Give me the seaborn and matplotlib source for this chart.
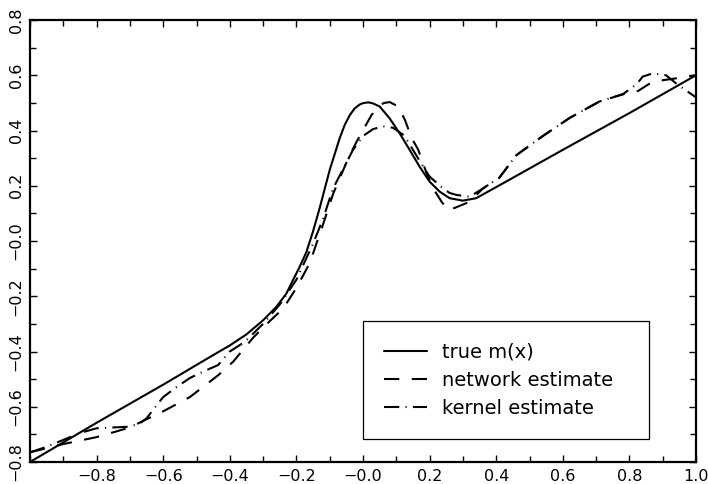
import numpy as np
import pandas as pd
import matplotlib
matplotlib.use("Agg")
import matplotlib.pyplot as plt
import seaborn as sns
from matplotlib.ticker import MultipleLocator

# ---- data ----
x_true = [-1.0, -0.8, -0.6, -0.45, -0.4, -0.35, -0.3, -0.26, -0.23, -0.21, -0.19, -0.17,
          -0.15, -0.13, -0.10, -0.07, -0.055, -0.04, -0.025, -0.01, 0.0, 0.016, 0.03,
          0.05, 0.08, 0.11, 0.14, 0.17, 0.20, 0.23, 0.26, 0.30, 0.34, 0.44, 0.60, 0.80,
          1.00]
y_true = [-0.80, -0.658, -0.52, -0.413, -0.378, -0.338, -0.287, -0.238, -0.19, -0.141,
          -0.093, -0.04, 0.035, 0.12, 0.257, 0.372, 0.42, 0.455, 0.48, 0.494, 0.499,
          0.502, 0.498, 0.487, 0.444, 0.39, 0.33, 0.269, 0.215, 0.179, 0.155, 0.146,
          0.155, 0.222, 0.33, 0.463, 0.60]

x_net = [-1.0, -0.9, -0.8, -0.7, -0.65, -0.61, -0.565, -0.52, -0.48, -0.435, -0.39,
         -0.33, -0.28, -0.24, -0.20, -0.16, -0.12, -0.09, -0.06, -0.044, -0.019, 0.026,
         0.061, 0.08, 0.106, 0.126, 0.146, 0.166, 0.191, 0.211, 0.236, 0.255, 0.276,
         0.32, 0.36, 0.41, 0.46, 0.54, 0.62, 0.71, 0.78, 0.826, 0.87, 0.93, 1.0]
y_net = [-0.765, -0.735, -0.71, -0.675, -0.645, -0.623, -0.594, -0.565, -0.528, -0.486,
         -0.437, -0.35, -0.29, -0.245, -0.17, -0.08, 0.06, 0.17, 0.255, 0.30, 0.36, 0.457,
         0.499, 0.503, 0.487, 0.438, 0.373, 0.33, 0.245, 0.19, 0.142, 0.112, 0.12,
         0.142, 0.19, 0.23, 0.31, 0.38, 0.445, 0.505, 0.531, 0.543, 0.577, 0.587, 0.60]

x_ker = [-1.0, -0.95, -0.9, -0.85, -0.8, -0.75, -0.7, -0.67, -0.65, -0.62, -0.6, -0.565,
         -0.52, -0.48, -0.435, -0.4, -0.355, -0.3, -0.25, -0.2, -0.15, -0.12, -0.09, -0.06,
         -0.03, 0.0, 0.03, 0.06, 0.09, 0.12, 0.135, 0.17, 0.2, 0.24, 0.26, 0.28, 0.32,
         0.36, 0.41, 0.46, 0.54, 0.62, 0.71, 0.78, 0.822, 0.84, 0.87, 0.91, 0.946, 1.0]
y_ker = [-0.765, -0.745, -0.72, -0.695, -0.678, -0.675, -0.672, -0.66, -0.642, -0.595,
         -0.565, -0.533, -0.496, -0.473, -0.449, -0.40, -0.365, -0.30, -0.23, -0.14,
         -0.01, 0.08, 0.19, 0.26, 0.33, 0.38, 0.405, 0.415, 0.41, 0.385, 0.36, 0.29,
         0.233, 0.191, 0.174, 0.167, 0.16, 0.19, 0.23, 0.31, 0.38, 0.445, 0.505, 0.531,
         0.568, 0.595, 0.607, 0.60, 0.565, 0.52]

series_labels = ["true m(x)", "network estimate", "kernel estimate"]

x_ticks = [-0.8, -0.6, -0.4, -0.2, 0.0, 0.2, 0.4, 0.6, 0.8, 1.0]
x_tick_labels = ["\u22120.8", "\u22120.6", "\u22120.4", "\u22120.2", "\u22120.0",
                 "0.2", "0.4", "0.6", "0.8", "1.0"]
y_ticks = [-0.8, -0.6, -0.4, -0.2, 0.0, 0.2, 0.4, 0.6, 0.8]
y_tick_labels = ["\u22120.8", "\u22120.6", "\u22120.4", "\u22120.2", "\u22120.0",
                 "0.2", "0.4", "0.6", "0.8"]

# ---- plotting ----
sns.set_style("ticks")
plt.rcParams["font.family"] = ["DejaVu Sans"]
plt.rcParams["lines.scale_dashes"] = False
plt.rcParams["text.color"] = "black"
plt.rcParams["legend.labelcolor"] = "black"

fig = plt.figure(figsize=(7.08, 4.84), dpi=100)
ax = fig.add_axes([30 / 708, 22 / 484, 666 / 708, 442 / 484])

df_true = pd.DataFrame({"x": x_true, "y": y_true})
df_net = pd.DataFrame({"x": x_net, "y": y_net})
df_ker = pd.DataFrame({"x": x_ker, "y": y_ker})

sns.lineplot(data=df_true, x="x", y="y", ax=ax, color="black", linewidth=1.5,
             estimator=None, sort=False, label=series_labels[0])
sns.lineplot(data=df_net, x="x", y="y", ax=ax, color="black", linewidth=1.5,
             estimator=None, sort=False, label=series_labels[1],
             linestyle=(0, (11.0, 9.0)))
sns.lineplot(data=df_ker, x="x", y="y", ax=ax, color="black", linewidth=1.5,
             estimator=None, sort=False, label=series_labels[2],
             linestyle=(0, (11.0, 4.5, 0.8, 4.5)))

ax.set_xlim(-1, 1)
ax.set_ylim(-0.8, 0.8)
ax.set_xlabel("")
ax.set_ylabel("")

ax.set_xticks(x_ticks)
ax.set_xticklabels(x_tick_labels, fontsize=11.5, color="black")
ax.set_yticks(y_ticks)
ax.set_yticklabels(y_tick_labels, fontsize=11.5, color="black")
ax.xaxis.set_minor_locator(MultipleLocator(0.1))
ax.yaxis.set_minor_locator(MultipleLocator(0.1))
ax.tick_params(which="both", direction="in", top=True, right=True,
               colors="black", width=1.0)
ax.tick_params(which="major", length=5)
ax.tick_params(which="minor", length=4)
ax.tick_params(axis="x", which="major", pad=5)
ax.tick_params(axis="y", which="major", pad=4.5)
for lab in ax.get_yticklabels():
    lab.set_rotation(90)
    lab.set_va("center")

for sp in ax.spines.values():
    sp.set_visible(True)
    sp.set_linewidth(1.6)
    sp.set_color("black")

x0 = (363 - 30) / 666
y0 = (462 - 439) / 442
w = (649 - 363) / 666
h = (439 - 321) / 442
leg = ax.legend(loc="lower left", bbox_to_anchor=(x0, y0, w, h), mode="expand",
                borderaxespad=0, fontsize=14, frameon=True, fancybox=False,
                framealpha=1, edgecolor="black", handlelength=2.2,
                handletextpad=0.8, labelspacing=0.48, borderpad=1.08)
leg.get_frame().set_linewidth(0.9)
for t in leg.get_texts():
    t.set_color("black")

fig.savefig("out.png", dpi=100)
